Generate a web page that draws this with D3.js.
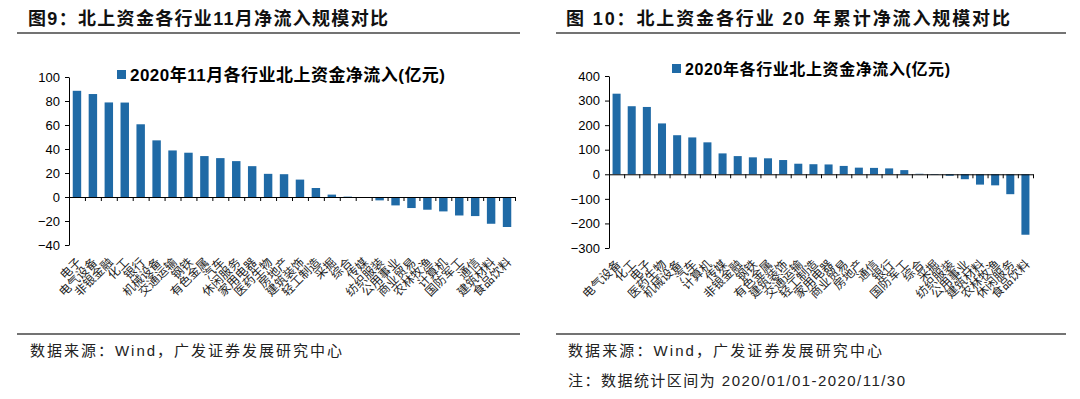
<!DOCTYPE html>
<html>
<head>
<meta charset="utf-8">
<script src="https://cdn.jsdelivr.net/npm/d3@7"></script>
<style>
  body { margin: 0; background: #fff; }
  svg text { font-family: "Liberation Sans", Arial, "Noto Sans CJK SC", sans-serif; }
</style>
</head>
<body>
<svg></svg>
<script>
const d3 = window.d3

// 图9: 11月
const novCats = ['电子', '电气设备', '非银金融', '化工', '银行', '机械设备', '交通运输',
  '钢铁', '有色金属', '汽车', '休闲服务', '家用电器', '医药生物', '房地产', '建筑装饰',
  '轻工制造', '采掘', '综合', '传媒', '纺织服装', '公用事业', '商业贸易', '农林牧渔',
  '计算机', '国防军工', '通信', '建筑材料', '食品饮料']
const novValues = [88.5, 85.8, 78.8, 78.7, 60.6, 47.2, 38.8, 36.9, 34.1, 32.4, 29.9, 25.7,
  19.3, 19.0, 14.5, 7.5, 2.0, 0.3, -0.3, -2.8, -7.0, -9.2, -10.6, -12.0, -15.4, -15.9,
  -22.3, -25.0]
const novTicks = [100, 80, 60, 40, 20, 0, -20, -40]

// 图10: 全年累计
const yearCats = ['电气设备', '化工', '电子', '医药生物', '机械设备', '汽车', '计算机',
  '传媒', '非银金融', '钢铁', '有色金属', '建筑装饰', '交通运输', '轻工制造', '家用电器',
  '商业贸易', '房地产', '通信', '银行', '国防军工', '综合', '采掘', '纺织服装', '公用事业',
  '建筑材料', '农林牧渔', '休闲服务', '食品饮料']
const yearValues = [328, 277, 274, 207, 159, 150, 130, 85, 74, 69, 65, 58, 43, 41, 40, 34,
  27, 26, 24, 17, 2, -2, -6, -20, -42, -45, -81, -246]
const yearTicks = [400, 300, 200, 100, 0, -100, -200, -300]

let width = 1080
let height = 399
let barColor = '#1f6aa6'

let svg = d3.select('svg')
  .attr('width', width)
  .attr('height', height)

function drawPanel (p) {
  let yScale = d3.scaleLinear()
    .domain([p.ticks[0], p.ticks[p.ticks.length - 1]])
    .range([p.top, p.bottom])

  let xScale = d3.scaleBand()
    .domain(p.cats)
    .range([p.left, p.right])
    .paddingInner(0.47)
    .paddingOuter(0.235)

  // category boundaries for the x axis ticks
  let edgeScale = d3.scaleLinear()
    .domain([0, p.cats.length])
    .range([p.left, p.right])

  let yAxis = d3.axisLeft(yScale)
    .tickValues(p.ticks)
    .tickSize(4)
    .tickSizeOuter(0)
    .tickPadding(5)

  let xAxis = d3.axisBottom(edgeScale)
    .tickValues(d3.range(1, p.cats.length + 1))
    .tickSize(4)
    .tickSizeOuter(0)
    .tickFormat('')

  let bars = p.cats.map((c, i) => ({ cat: c, value: p.values[i] }))

  svg.append('g')
    .selectAll('rect')
    .data(bars)
    .enter()
    .append('rect')
      .attr('x', d => xScale(d.cat))
      .attr('width', xScale.bandwidth())
      .attr('y', d => Math.min(yScale(d.value), yScale(0)))
      .attr('height', d => Math.abs(yScale(d.value) - yScale(0)))
      .attr('fill', barColor)

  let gy = svg.append('g')
    .attr('transform', `translate(${p.left}, 0)`)
    .call(yAxis)
  gy.selectAll('text').style('font-size', '13px').attr('fill', '#000')

  svg.append('g')
    .attr('transform', `translate(0, ${yScale(0)})`)
    .call(xAxis)

  svg.selectAll('.domain, .tick line').attr('stroke', '#000')

  // rotated category labels under the plot
  svg.append('g')
    .selectAll('text')
    .data(bars)
    .enter()
    .append('text')
      .attr('transform', d =>
        `translate(${xScale(d.cat) + xScale.bandwidth() / 2 + 5}, ${p.labelY}) rotate(-45)`)
      .style('text-anchor', 'end')
      .style('font-size', '12px')
      .attr('fill', '#222')
      .text(d => d.cat)

  // legend
  svg.append('rect')
    .attr('x', p.legX)
    .attr('y', p.legY - 5)
    .attr('width', 9)
    .attr('height', 9)
    .attr('fill', barColor)
  svg.append('text')
    .attr('x', p.legX + 13)
    .attr('y', p.legY)
    .attr('dy', '0.36em')
    .attr('textLength', p.legW)
    .style('font-size', p.legSize)
    .style('font-weight', 'bold')
    .text(p.legend)

  // heading and rules
  svg.append('text')
    .attr('x', p.titleX)
    .attr('y', 25)
    .attr('textLength', p.titleW)
    .style('font-size', '18px')
    .style('font-weight', 'bold')
    .attr('fill', '#111')
    .text(p.title)

  svg.append('line')
    .attr('x1', p.ruleX1).attr('x2', p.ruleX2)
    .attr('y1', 33).attr('y2', 33)
    .attr('stroke', '#444').attr('stroke-width', 1.5)

  svg.append('line')
    .attr('x1', p.ruleX1).attr('x2', p.ruleX2)
    .attr('y1', 334).attr('y2', 334)
    .attr('stroke', '#444').attr('stroke-width', 1.5)

  p.notes.forEach((n, i) => {
    svg.append('text')
      .attr('x', p.titleX + 2)
      .attr('y', 356 + i * 30)
      .attr('textLength', n.w)
      .style('font-size', '15px')
      .attr('fill', '#222')
      .text(n.text)
  })
}

drawPanel({
  cats: novCats,
  values: novValues,
  ticks: novTicks,
  left: 69, right: 515, top: 77, bottom: 245,
  labelY: 263,
  legX: 117, legY: 75, legW: 315, legSize: '17px',
  legend: '2020年11月各行业北上资金净流入(亿元)',
  titleX: 28, titleW: 360,
  title: '图9：北上资金各行业11月净流入规模对比',
  ruleX1: 17, ruleX2: 520,
  notes: [{ text: '数据来源：Wind，广发证券发展研究中心', w: 312 }]
})

drawPanel({
  cats: yearCats,
  values: yearValues,
  ticks: yearTicks,
  left: 609, right: 1033, top: 76, bottom: 248,
  labelY: 265,
  legX: 672, legY: 69, legW: 265, legSize: '16px',
  legend: '2020年各行业北上资金净流入(亿元)',
  titleX: 566, titleW: 444,
  title: '图 10：北上资金各行业 20 年累计净流入规模对比',
  ruleX1: 556, ruleX2: 1066,
  notes: [
    { text: '数据来源：Wind，广发证券发展研究中心', w: 314 },
    { text: '注：数据统计区间为 2020/01/01-2020/11/30', w: 337 }
  ]
})
</script>
</body>
</html>
